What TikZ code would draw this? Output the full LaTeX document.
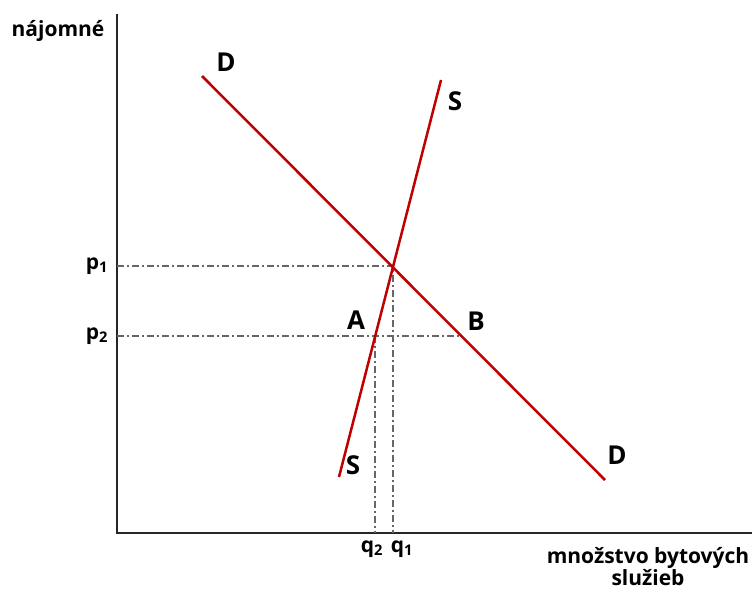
\documentclass[tikz,border=0pt]{standalone}
\usepackage{fontspec}
\setmainfont{Open Sans}
\begin{document}
\begin{tikzpicture}[x=1pt,y=-1pt,
  axis/.style={line width=2.2pt,black!85},
  curve/.style={line width=2.5pt,red!75!black},
  guide/.style={line width=1.6pt,black!60,dash pattern=on 7pt off 3pt on 2pt off 3pt},
  lbl/.style={font=\bfseries\fontsize{21}{24}\selectfont,inner sep=0pt},
  big/.style={font=\bfseries\fontsize{26}{30}\selectfont,inner sep=0pt}]
\useasboundingbox (0,0) rectangle (756,591);
\coordinate (O) at (117,533);
\coordinate (Ytop) at (117,14);
\coordinate (Xend) at (752,533);
\draw[axis] (Ytop) -- (O) -- (Xend);
\coordinate (D1) at (202,76);
\coordinate (D2) at (605,480);
\coordinate (S1) at (339,477);
\coordinate (S2) at (441,80);
\coordinate (E) at (393,266);
\coordinate (P1) at (117,266);
\coordinate (Q1) at (393,533);
\coordinate (P2) at (117,336);
\coordinate (Bp) at (462,336);
\coordinate (Ap) at (375,336);
\coordinate (Q2) at (375,533);
\draw[guide] (P1) -- (E) -- (Q1);
\draw[guide] (P2) -- (Bp);
\draw[guide] (Ap) -- (Q2);
\draw[curve] (D1) -- (D2);
\draw[curve] (S1) -- (S2);
\node[lbl] (yl) at (58,31) {nájomné};
\node[lbl] (p1) at (97,266) {p\textsubscript{1}};
\node[lbl] (p2) at (97,336) {p\textsubscript{2}};
\node[lbl] (q2) at (372,549) {q\textsubscript{2}};
\node[lbl] (q1) at (402,549) {q\textsubscript{1}};
\node[lbl,align=center,font=\bfseries\fontsize{21}{22}\selectfont] (xl) at (648,567) {množstvo bytových\\služieb};
\node[big] (dtop) at (226,62) {D};
\node[big] (stop) at (455,101) {S};
\node[big] (a) at (356,320) {A};
\node[big] (b) at (476,321) {B};
\node[big] (sbot) at (353,465) {S};
\node[big] (dbot) at (617,455) {D};
\end{tikzpicture}
\end{document}
